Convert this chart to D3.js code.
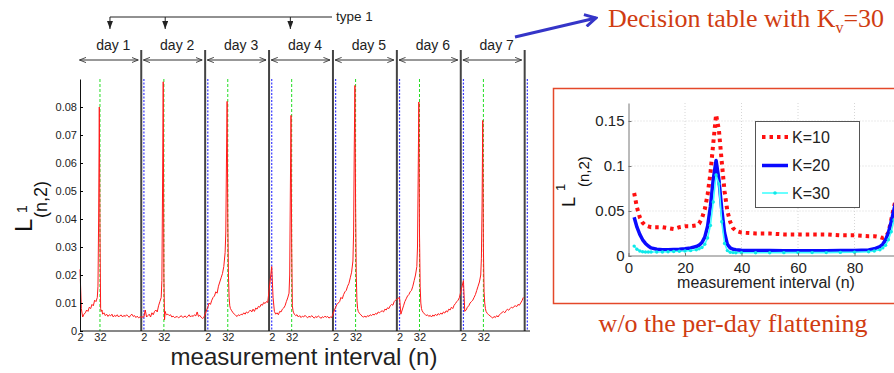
<!DOCTYPE html>
<meta charset="utf-8">
<script src="https://d3js.org/d3.v7.min.js"></script>
<style>
  body { margin: 0; background: #fff; }
  text { font-family: "Liberation Sans", Arial, sans-serif; }
</style>
<div id="my_dataviz"></div>
<script>

// ---- main chart data: L1(n,2) per day, sampled at these n ----
var nIdx = [2,4,6,8,10,12,14,16,18,20,22,24,26,28,29,30,31,32,33,34,35,36,
            38,40,42,44,46,48,50,52,54,56,58,60,62,64,66,68,70,72,74,76,78,80,82,84,86,88,90,92];

var day1 = [.022,.008,.005,.006,.0065,.0075,.007,.0085,.008,.0095,.009,.011,.0105,.012,.016,.040,.080,.035,.008,.007,.0075,.006,
            .0065,.0055,.006,.0052,.0058,.0054,.006,.005,.0056,.0052,.0058,.005,.0055,.0057,.005,.0056,.0052,.0058,.0053,.0049,.0056,.006,.0052,.0055,.0048,.0053,.0047,.005];
var day2 = [.005,.0075,.005,.0055,.006,.005,.0065,.0058,.007,.0075,.0068,.009,.0105,.012,.018,.050,.089,.020,.004,.007,.0062,.0058,
            .006,.0055,.0058,.005,.0053,.0048,.005,.0052,.0047,.005,.0055,.0049,.005,.0054,.0048,.0052,.0058,.005,.0055,.0052,.0058,.0054,.0068,.0052,.0056,.0049,.0045,.0048];
var day3 = [.0085,.010,.0095,.011,.012,.0125,.014,.0135,.016,.0175,.019,.0205,.023,.028,.035,.060,.082,.040,.020,.012,.009,.008,
            .0072,.0065,.006,.0055,.0052,.0058,.0055,.006,.0058,.0065,.006,.0068,.0064,.007,.0075,.0068,.0078,.007,.0082,.0078,.0088,.0085,.0095,.0092,.0102,.0098,.0105,.0102];
var day4 = [.023,.012,.007,.006,.0065,.0058,.007,.0068,.0078,.0082,.009,.0105,.0118,.0135,.020,.050,.077,.030,.009,.0072,.0065,.006,
            .0055,.0058,.005,.0055,.0048,.0053,.005,.0056,.0051,.0047,.0053,.0049,.0055,.005,.0046,.0052,.0048,.0054,.005,.0045,.0051,.0048,.0053,.0049,.0052,.0046,.005,.0048];
var day5 = [.0085,.0095,.010,.0105,.012,.0115,.013,.014,.0145,.016,.017,.019,.021,.025,.035,.065,.0877,.045,.020,.011,.008,.007,
            .0062,.0058,.0052,.005,.0053,.0049,.0055,.0052,.0058,.0055,.006,.0057,.0063,.006,.0068,.0065,.007,.0072,.0068,.0078,.0075,.0083,.008,.009,.0095,.0092,.0105,.011];
var day6 = [.012,.006,.0075,.009,.0105,.0115,.0125,.013,.014,.0145,.016,.018,.020,.023,.030,.055,.0818,.035,.016,.010,.008,.0072,
            .0065,.006,.0055,.0058,.0052,.0056,.005,.0057,.0053,.006,.0055,.0062,.0058,.0064,.006,.0068,.0064,.0072,.0068,.0078,.0075,.0085,.008,.0092,.0098,.0105,.011,.012];
var day7 = [.018,.007,.0075,.0085,.009,.010,.0105,.011,.012,.013,.0145,.016,.0175,.020,.026,.045,.0752,.030,.014,.010,.008,.007,
            .0062,.0058,.0054,.005,.0046,.0052,.0048,.0055,.005,.0058,.0062,.0066,.007,.0065,.0072,.0078,.0074,.008,.0085,.0082,.0088,.009,.0087,.0095,.0092,.010,.0108,.012];
var days = [day1, day2, day3, day4, day5, day6, day7];
var dayNames = ["day 1", "day 2", "day 3", "day 4", "day 5", "day 6", "day 7"];
var yTicks = [0, .01, .02, .03, .04, .05, .06, .07, .08];
var xTickN = [2, 32];
// days flagged "type 1" (day index, n where the arrow points)
var typeOne = [{day: 0, n: 47}, {day: 1, n: 34}, {day: 3, n: 30}];

// ---- inset data: without per-day flattening ----
var insetN = [2,3,4,5,6,7,8,10,12,14,16,18,20,22,24,25,26,27,28,29,30,31,32,33,34,35,36,37,38,
              40,45,50,55,60,65,70,75,80,85,87,89,90,91,92,93,94,95];
var k10 = [.070,.054,.043,.037,.034,.033,.032,.032,.032,.031,.030,.032,.033,.033,.034,.036,.042,.052,.068,.092,.125,.157,.140,.105,.072,.050,.038,.031,.028,
           .026,.025,.025,.024,.024,.024,.024,.023,.023,.022,.022,.021,.020,.021,.026,.040,.055,.068];
var k20 = [.043,.032,.024,.018,.014,.011,.009,.0075,.007,.007,.0072,.0075,.008,.009,.0105,.012,.015,.021,.033,.055,.085,.106,.085,.052,.026,.013,.009,.0075,.007,
           .0065,.006,.006,.0058,.0058,.0058,.0058,.006,.0062,.0068,.008,.0105,.013,.018,.026,.038,.052,.065];
var k30 = [.011,.0075,.0055,.0048,.0045,.0045,.0045,.0045,.0045,.0048,.005,.0052,.0055,.006,.007,.008,.0095,.013,.020,.034,.060,.090,.080,.038,.014,.006,.0042,.0038,.0036,
           .0036,.0036,.0036,.0037,.0038,.0038,.0038,.004,.0042,.0048,.0055,.007,.009,.012,.018,.027,.040,.052];
var legendNames = ["K=10", "K=20", "K=30"];
var insetXTicks = [0, 20, 40, 60, 80];
var insetYTicks = [0, .05, .1, .15];

var svg = d3.select("#my_dataviz")
  .append("svg")
    .attr("width", 894)
    .attr("height", 373);

var defs = svg.append("defs");
defs.append("marker")
    .attr("id", "open").attr("markerUnits", "userSpaceOnUse")
    .attr("viewBox", "0 0 8 8").attr("refX", 7.5).attr("refY", 4)
    .attr("markerWidth", 7).attr("markerHeight", 7).attr("orient", "auto-start-reverse")
  .append("path").attr("d", "M0,1 L7.5,4 L0,7").attr("fill", "none").attr("stroke", "#333").attr("stroke-width", 1);
defs.append("marker")
    .attr("id", "down").attr("markerUnits", "userSpaceOnUse")
    .attr("viewBox", "0 0 8 6").attr("refX", 8).attr("refY", 3)
    .attr("markerWidth", 8).attr("markerHeight", 6).attr("orient", "auto")
  .append("path").attr("d", "M0,0 L8,3 L0,6 Z").attr("fill", "#222");
defs.append("marker")
    .attr("id", "bluehead").attr("markerUnits", "userSpaceOnUse")
    .attr("viewBox", "0 0 14 14").attr("refX", 12).attr("refY", 7)
    .attr("markerWidth", 14).attr("markerHeight", 14).attr("orient", "auto")
  .append("path").attr("d", "M1,1 L12,7 L1,13").attr("fill", "none")
    .attr("stroke", "#3535c8").attr("stroke-width", 3);

// ================= main chart =================
var perDay = 96;
var x = d3.scaleLinear().domain([0, 7 * perDay + 4]).range([80, 530]);
var y = d3.scaleLinear().domain([0, 0.09]).range([331, 79]);
function u(d, n) { return d * perDay + n - 2; }

var main = svg.append("g");

// green dashed at n=32 of each day
main.selectAll("greenline")
  .data(d3.range(7))
  .enter().append("line")
    .attr("x1", function(d){ return x(u(d, 32)); })
    .attr("x2", function(d){ return x(u(d, 32)); })
    .attr("y1", y(0.09)).attr("y2", y(0))
    .style("stroke", "#22dd22").style("stroke-width", 1).style("stroke-dasharray", "3,2");

// day separators (black) and day starts (blue dashed)
main.selectAll("sep")
  .data(d3.range(1, 8))
  .enter().append("line")
    .attr("x1", function(d){ return x(u(d, -2)); })
    .attr("x2", function(d){ return x(u(d, -2)); })
    .attr("y1", 50).attr("y2", y(0))
    .style("stroke", "#444").style("stroke-width", 2);
main.selectAll("blueline")
  .data(d3.range(1, 8))
  .enter().append("line")
    .attr("x1", function(d){ return x(u(d, 2)); })
    .attr("x2", function(d){ return x(u(d, 2)); })
    .attr("y1", y(0.09)).attr("y2", y(0))
    .style("stroke", "#3a3aff").style("stroke-width", 1.2).style("stroke-dasharray", "2,1.5");

// the red curve
var pts = [];
days.forEach(function(vals, d){
  vals.forEach(function(v, i){ pts.push({u: u(d, nIdx[i]), v: v}); });
});
main.append("path")
  .datum(pts)
  .attr("fill", "none")
  .attr("stroke", "#ff1a1a")
  .attr("stroke-width", 1)
  .attr("d", d3.line().x(function(d){ return x(d.u); }).y(function(d){ return y(d.v); }));

// axes
var xTickVals = [];
d3.range(7).forEach(function(d){ xTickN.forEach(function(n){ xTickVals.push(u(d, n)); }); });
var xAxis = main.append("g")
  .attr("transform", "translate(0," + y(0) + ")")
  .call(d3.axisBottom(x).tickValues(xTickVals).tickSize(0).tickPadding(2)
        .tickFormat(function(d){ return String((d % perDay) + 2); }));
xAxis.select(".domain").attr("d", "M80,0H530").style("stroke", "#111");
xAxis.selectAll("text").style("font-size", "11px").style("fill", "#222")
  .style("font-family", "Liberation Sans, Arial, sans-serif");

var yAxis = main.append("g")
  .attr("transform", "translate(80,0)")
  .call(d3.axisLeft(y).tickValues(yTicks).tickSizeInner(-3).tickSizeOuter(0).tickPadding(3)
        .tickFormat(d3.format("~g")));
yAxis.select(".domain").style("stroke", "#111");
yAxis.selectAll("text").style("font-size", "11px").style("fill", "#222")
  .style("font-family", "Liberation Sans, Arial, sans-serif");

// y label  L^1_(n,2)
var yl = main.append("g").attr("transform", "translate(32,232) rotate(-90)");
yl.append("text").attr("x", 0).attr("y", 0).style("font-size", "24px").style("fill", "#111").text("L");
yl.append("text").attr("x", 19).attr("y", -5).style("font-size", "14px").style("fill", "#111").text("1");
yl.append("text").attr("x", 14).attr("y", 15).style("font-size", "18px").style("fill", "#111").text("(n,2)");

main.append("text")
  .attr("x", 304).attr("y", 365)
  .attr("text-anchor", "middle")
  .style("font-size", "24px").style("fill", "#222")
  .text("measurement interval (n)");

// day arrows and labels
main.selectAll("dayarrow")
  .data(d3.range(7))
  .enter().append("line")
    .attr("x1", function(d){ return x(u(d, 2)) - 0.5; })
    .attr("x2", function(d){ return x(u(d, 89.5)); })
    .attr("y1", 60).attr("y2", 60)
    .attr("stroke", "#333").attr("stroke-width", 1)
    .attr("marker-start", "url(#open)").attr("marker-end", "url(#open)");
main.selectAll("daylabel")
  .data(dayNames)
  .enter().append("text")
    .attr("x", function(d, i){ return x(u(i, 52)); })
    .attr("y", 50)
    .attr("text-anchor", "middle")
    .style("font-size", "14px").style("fill", "#222")
    .text(function(d){ return d; });

// "type 1" bracket
var tx = typeOne.map(function(t){ return x(u(t.day, t.n)); });
main.append("line")
  .attr("x1", tx[0]).attr("x2", 332).attr("y1", 17).attr("y2", 17)
  .attr("stroke", "#222").attr("stroke-width", 1);
main.selectAll("typearrow")
  .data(tx)
  .enter().append("line")
    .attr("x1", function(d){ return d; }).attr("x2", function(d){ return d; })
    .attr("y1", 17).attr("y2", 29)
    .attr("stroke", "#222").attr("stroke-width", 1)
    .attr("marker-end", "url(#down)");
main.append("text")
  .attr("x", 336).attr("y", 21)
  .style("font-size", "13.5px").style("fill", "#222")
  .text("type 1");

// ================= annotations =================
svg.append("line")
  .attr("x1", 515).attr("y1", 37).attr("x2", 596).attr("y2", 18)
  .attr("stroke", "#3535c8").attr("stroke-width", 3)
  .attr("marker-end", "url(#bluehead)");

var title = svg.append("text")
  .attr("x", 608).attr("y", 27)
  .style("font-family", "Liberation Serif, Times New Roman, serif")
  .style("font-size", "26px").style("fill", "#d03c12");
title.append("tspan").text("Decision table with K");
title.append("tspan").attr("dy", 6).style("font-size", "16px").text("v");
title.append("tspan").attr("dy", -6).text("=30");

svg.append("text")
  .attr("x", 733).attr("y", 332)
  .attr("text-anchor", "middle")
  .style("font-family", "Liberation Serif, Times New Roman, serif")
  .style("font-size", "26px").style("fill", "#d03c12")
  .text("w/o the per-day flattening");

// ================= inset =================
svg.append("rect")
  .attr("x", 553.5).attr("y", 88.5).attr("width", 360).attr("height", 215)
  .style("fill", "white").style("stroke", "#e4482a").style("stroke-width", 1.5);

var ix = d3.scaleLinear().domain([0, 100]).range([628.5, 911]);
var iy = d3.scaleLinear().domain([0, 0.17]).range([256, 103]);
var inset = svg.append("g");

// dotted grid
inset.selectAll("vgrid")
  .data(insetXTicks.slice(1))
  .enter().append("line")
    .attr("x1", function(d){ return ix(d); }).attr("x2", function(d){ return ix(d); })
    .attr("y1", iy(0.17)).attr("y2", iy(0))
    .style("stroke", "#d6d6d6").style("stroke-dasharray", "1,2");
inset.selectAll("hgrid")
  .data(insetYTicks.slice(1))
  .enter().append("line")
    .attr("x1", ix(0)).attr("x2", 894)
    .attr("y1", function(d){ return iy(d); }).attr("y2", function(d){ return iy(d); })
    .style("stroke", "#d6d6d6").style("stroke-dasharray", "1,2");

var iline = d3.line()
  .x(function(d, i){ return ix(insetN[i]); })
  .y(function(d){ return iy(d); });

inset.append("path").datum(k10)
  .attr("fill", "none").attr("stroke", "#ff1010").attr("stroke-width", 4)
  .attr("stroke-dasharray", "3.5,4").attr("d", iline);
inset.append("path").datum(k20)
  .attr("fill", "none").attr("stroke", "#0a0aff").attr("stroke-width", 3.5)
  .attr("stroke-linejoin", "round").attr("d", iline);
inset.append("path").datum(k30)
  .attr("fill", "none").attr("stroke", "#44ffff").attr("stroke-width", 1.6).attr("d", iline);
inset.selectAll("k30dot")
  .data(k30)
  .enter().append("circle")
    .attr("cx", function(d, i){ return ix(insetN[i]); })
    .attr("cy", function(d){ return iy(d); })
    .attr("r", 1.7)
    .style("fill", "#10e8e8");

var ixAxis = inset.append("g")
  .attr("transform", "translate(0," + iy(0) + ")")
  .call(d3.axisBottom(ix).tickValues(insetXTicks).tickSizeInner(-3).tickSizeOuter(0).tickPadding(6));
ixAxis.select(".domain").attr("d", "M" + ix(0) + ",0H" + ix(100));
var iyAxis = inset.append("g")
  .attr("transform", "translate(" + ix(0) + ",0)")
  .call(d3.axisLeft(iy).tickValues(insetYTicks).tickSizeInner(-3).tickSizeOuter(0).tickPadding(4)
        .tickFormat(d3.format("~g")));
[ixAxis, iyAxis].forEach(function(a){
  a.selectAll(".domain, line").style("stroke", "#777");
  a.selectAll("text").style("font-size", "15px").style("fill", "#222")
    .style("font-family", "Liberation Sans, Arial, sans-serif");
});

inset.append("text")
  .attr("x", 766).attr("y", 288)
  .attr("text-anchor", "middle")
  .style("font-size", "16px").style("fill", "#222")
  .text("measurement interval (n)");

var iyl = inset.append("g").attr("transform", "translate(575,207) rotate(-90)");
iyl.append("text").attr("x", 0).attr("y", 0).style("font-size", "18px").style("fill", "#111").text("L");
iyl.append("text").attr("x", 16).attr("y", -10).style("font-size", "13px").style("fill", "#111").text("1");
iyl.append("text").attr("x", 20).attr("y", 14).style("font-size", "15px").style("fill", "#111").text("(n,2)");

// legend
inset.append("rect")
  .attr("x", 755.5).attr("y", 121.5).attr("width", 104).attr("height", 86)
  .style("fill", "white").style("stroke", "#555").style("stroke-width", 1);
var legY = [137, 165.5, 193];
var legStyle = [
  {color: "#ff1010", w: 4, dash: "3.5,4"},
  {color: "#0a0aff", w: 3.5, dash: null},
  {color: "#44ffff", w: 1.6, dash: null}
];
legendNames.forEach(function(name, i){
  inset.append("line")
    .attr("x1", 762).attr("x2", 788).attr("y1", legY[i]).attr("y2", legY[i])
    .attr("stroke", legStyle[i].color).attr("stroke-width", legStyle[i].w)
    .attr("stroke-dasharray", legStyle[i].dash);
  inset.append("text")
    .attr("x", 792).attr("y", legY[i])
    .attr("dominant-baseline", "central")
    .style("font-size", "16px").style("fill", "#222")
    .text(name);
});
inset.append("circle").attr("cx", 775).attr("cy", legY[2]).attr("r", 1.8).style("fill", "#10e8e8");

</script>
